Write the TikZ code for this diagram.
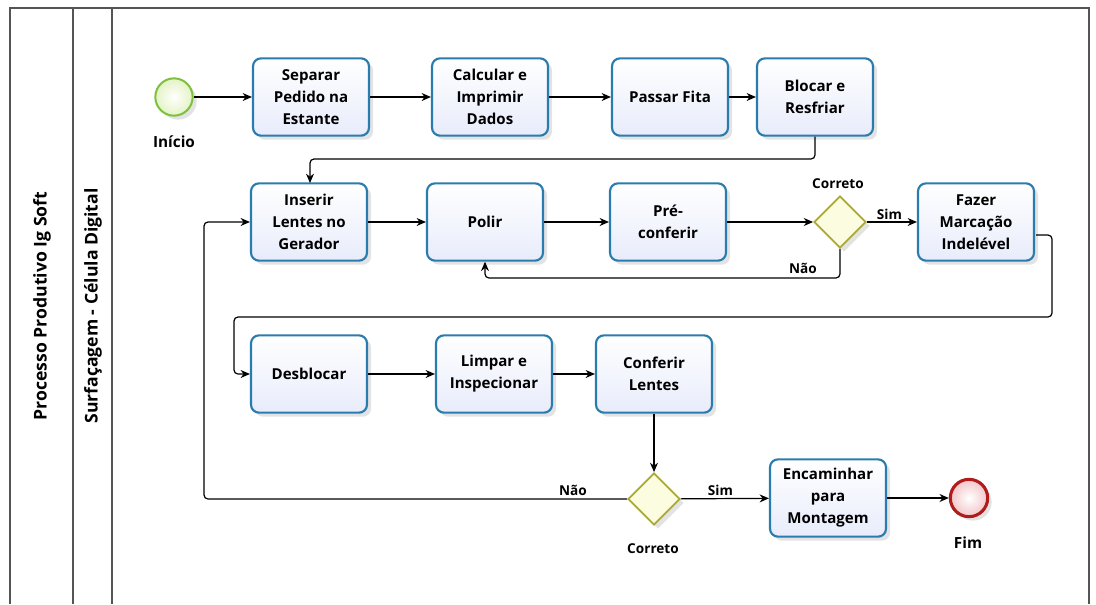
\documentclass[tikz,border=0pt]{standalone}
\usepackage{fontspec}
\setmainfont{Open Sans}
\usetikzlibrary{shapes.geometric,shadows,arrows.meta}
\definecolor{taskborder}{HTML}{2A7BAE}
\definecolor{taskfill}{HTML}{E8ECFB}
\definecolor{startborder}{HTML}{7DC03E}
\definecolor{startfill}{HTML}{E4F3C4}
\definecolor{endborder}{HTML}{B01C1C}
\definecolor{endfill}{HTML}{F2C6C9}
\definecolor{gateborder}{HTML}{A9A933}
\definecolor{gatefill}{HTML}{FCFCE0}
\definecolor{laneline}{HTML}{555555}
\begin{document}
\begin{tikzpicture}[x=0.75pt,y=-0.75pt,
  shade/.style={drop shadow={opacity=0.22,shadow xshift=3pt,shadow yshift=-3pt}},
  task/.style={draw=taskborder,line width=1.6pt,rounded corners=6pt,top color=white,bottom color=taskfill,
    minimum width=87pt,minimum height=58pt,align=center,inner sep=1pt,
    font=\bfseries\fontsize{11.3}{16.5}\selectfont,shade},
  gate/.style={diamond,draw=gateborder,line width=1.4pt,fill=gatefill,minimum width=39pt,minimum height=39pt,inner sep=0pt,shade},
  startev/.style={circle,draw=startborder,line width=1.5pt,inner color=white,outer color=startfill,minimum size=28pt,inner sep=0pt,shade},
  endev/.style={circle,draw=endborder,line width=2.3pt,inner color=white,outer color=endfill,minimum size=28pt,inner sep=0pt,shade},
  lbl/.style={font=\bfseries\fontsize{11.5}{13}\selectfont},
  slbl/.style={font=\bfseries\fontsize{10.2}{12}\selectfont},
  conn/.style={draw=black,line width=0.9pt,rounded corners=3pt,-{Stealth[length=7pt,width=6pt]}},
  lanetxt/.style={rotate=90,font=\bfseries\fontsize{13.2}{15}\selectfont}]
\useasboundingbox (0,0) rectangle (1096,604);
% pool and lanes
\draw[laneline,line width=0.8pt] (10,604) -- (10,8) -- (1089,8) -- (1089,604);
\draw[laneline,line width=0.8pt] (73,8) -- (73,604);
\draw[laneline,line width=0.8pt] (112,8) -- (112,604);
\node[lanetxt] (pool) at (42,306) {Processo Produtivo Ig Soft};
\node[lanetxt] (lane) at (93,306) {Surfaçagem - Célula Digital};
% row 1
\node[startev] (ini) at (174,97) {};
\node[lbl] (inil) at (174,142) {Início};
\node[task] (sep) at (311,97) {Separar\\Pedido na\\Estante};
\node[task] (calc) at (490,97) {Calcular e\\Imprimir\\Dados};
\node[task] (fita) at (670,97) {Passar Fita};
\node[task] (bloc) at (815,97) {Blocar e\\Resfriar};
% row 2
\node[task] (ins) at (309,222) {Inserir\\Lentes no\\Gerador};
\node[task] (pol) at (485,222) {Polir};
\node[task] (pre) at (668,222) {Pré-\\conferir};
\node[gate] (g1) at (840,222) {};
\node[slbl] (g1l) at (838,184) {Correto};
\node[task] (faz) at (976,222) {Fazer\\Marcação\\Indelével};
% row 3
\node[task] (des) at (309,374) {Desblocar};
\node[task] (limp) at (494,374) {Limpar e\\Inspecionar};
\node[task] (conf) at (654,374) {Conferir\\Lentes};
% row 4
\node[gate] (g2) at (654,499) {};
\node[slbl] (g2l) at (653,549) {Correto};
\node[task] (enc) at (828,498) {Encaminhar\\para\\Montagem};
\node[endev] (fim) at (969,498) {};
\node[lbl] (fiml) at (968,543) {Fim};
% connectors
\draw[conn] (ini) -- (sep);
\draw[conn] (sep) -- (calc);
\draw[conn] (calc) -- (fita);
\draw[conn] (fita) -- (bloc);
\draw[conn] (bloc.south) -- (815,159) -- (310,159) -- (310,183);
\draw[conn] (ins) -- (pol);
\draw[conn] (pol) -- (pre);
\draw[conn] (pre) -- (g1);
\draw[conn] (g1) -- node[slbl,above,pos=0.45,inner sep=1pt] (sim1) {Sim} (faz);
\draw[conn] (g1.south) -- (840,278) -- (485,278) -- (pol.south);
\node[slbl] (nao1) at (803,268) {Não};
\coordinate (fazout) at (1036,235);
\draw[conn] (fazout) -- (1052,235) -- (1052,317) -- (234,317) -- (234,374) -- (des.west);
\draw[conn] (des) -- (limp);
\draw[conn] (limp) -- (conf);
\draw[conn] (conf) -- (g2);
\draw[conn] (g2.west) -- (204,499) -- (204,222) -- (ins.west);
\node[slbl] (nao2) at (573,490) {Não};
\draw[conn] (g2) -- node[slbl,above,pos=0.45,inner sep=2pt] (sim2) {Sim} (enc);
\draw[conn] (enc) -- (fim);
\end{tikzpicture}
\end{document}
